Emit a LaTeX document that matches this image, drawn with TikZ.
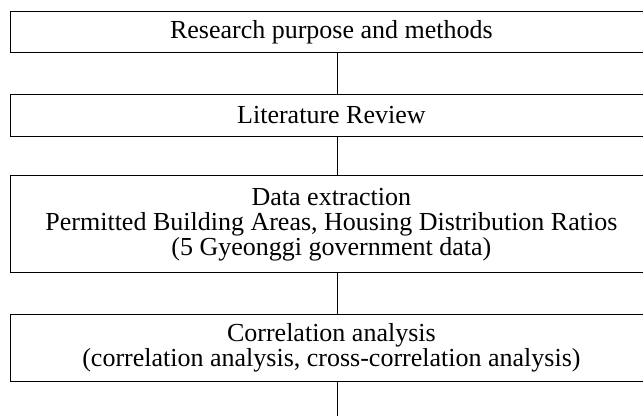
\documentclass[tikz,border=0pt]{standalone}
\usepackage{fontspec}
\setmainfont{Liberation Serif}

\begin{document}
\begin{tikzpicture}[
    x=0.5pt, y=-0.5pt, % one unit = one pixel of the reference
    line width=0.5pt,
    stage/.style={draw, rectangle, align=center, inner sep=0pt,
      minimum width=320.7pt, font=\fontsize{13}{12.5}\selectfont}
]

% --- 1. FRAME ---
% The boxes run past the right edge, so clip to the page
\useasboundingbox (0,0) rectangle (643,416);
\clip (0,0) rectangle (643,416);

% --- 2. STAGES ---
\node[stage, minimum height=20.6pt] (purpose) at (331.4,32.1) {Research purpose and methods};
\node[stage, minimum height=20.75pt] (review) at (331.4,115.3) {Literature Review};
\node[stage, minimum height=48.5pt] (extract) at (331.4,224.5)
  {Data extraction\\Permitted Building Areas, Housing Distribution Ratios\\(5 Gyeonggi government data)};
\node[stage, minimum height=33.85pt] (corr) at (331.4,347.9)
  {Correlation analysis\\(correlation analysis, cross-correlation analysis)};

% --- 3. CONNECTORS ---
\coordinate (spine) at (337.3,0);
\coordinate (tail) at (337.3,416);
\draw (purpose.south -| spine) -- (review.north -| spine);
\draw (review.south -| spine) -- (extract.north -| spine);
\draw (extract.south -| spine) -- (corr.north -| spine);
\draw (corr.south -| spine) -- (tail);

\end{tikzpicture}
\end{document}
